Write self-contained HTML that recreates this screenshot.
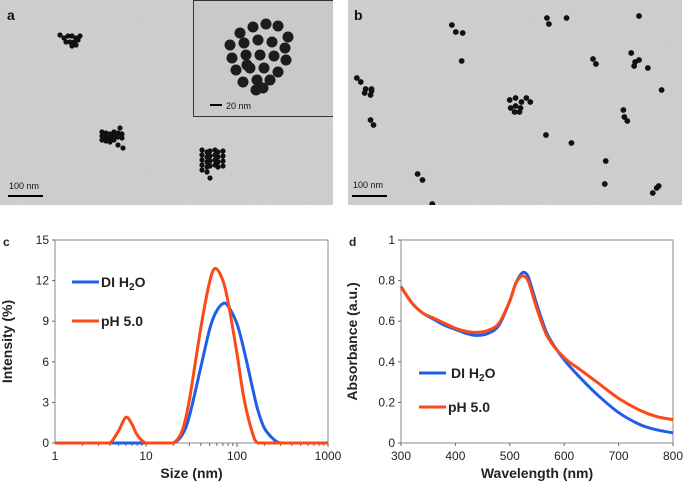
<!DOCTYPE html>
<html><head><meta charset="utf-8"><style>
body{margin:0;background:#fff;width:685px;height:488px;overflow:hidden;font-family:"Liberation Sans",sans-serif}
svg text{font-family:"Liberation Sans",sans-serif}
</style></head><body>
<svg id="fig" width="685" height="488" viewBox="0 0 685 488" xmlns="http://www.w3.org/2000/svg">
<defs>
<filter id="noise" x="0" y="0" width="1" height="1"><feTurbulence type="fractalNoise" baseFrequency="0.9" numOctaves="2" seed="3"/><feColorMatrix type="saturate" values="0"/><feComponentTransfer><feFuncA type="linear" slope="0.18"/></feComponentTransfer></filter>
<clipPath id="clipA"><rect x="0" y="0" width="333" height="205"/></clipPath>
<clipPath id="clipB"><rect x="348" y="0" width="334" height="205"/></clipPath>
</defs>
<g clip-path="url(#clipA)">
<rect x="0" y="0" width="333" height="205" fill="#cfcfcf"/>
<rect x="0" y="0" width="333" height="205" filter="url(#noise)"/>
<text x="7" y="20" font-size="14" font-weight="bold" fill="#111">a</text>
<g id="clA" fill="#111"></g>
<line x1="8" y1="196" x2="43" y2="196" stroke="#000" stroke-width="2"/>
<text x="9" y="189" font-size="9" fill="#111">100 nm</text>
<g>
<rect x="193.5" y="0.5" width="140" height="116" fill="#c9c9c9" stroke="#333" stroke-width="1"/>
<g id="clI" fill="#1c1c1c"></g>
<line x1="210" y1="105" x2="222" y2="105" stroke="#000" stroke-width="2"/>
<text x="226" y="109" font-size="9" fill="#111">20 nm</text>
</g>
</g>
<g clip-path="url(#clipB)">
<rect x="348" y="0" width="334" height="205" fill="#cfcfcf"/>
<rect x="348" y="0" width="334" height="205" filter="url(#noise)"/>
<text x="354" y="20" font-size="14" font-weight="bold" fill="#111">b</text>
<g id="clB" fill="#111"></g>
<line x1="352" y1="196" x2="387" y2="196" stroke="#000" stroke-width="2"/>
<text x="353" y="188" font-size="9" fill="#111">100 nm</text>
</g>
<g id="chartC"></g>
<g id="chartD"></g>
</svg>
<script>
// ===== DLS chart data =====
const dlsSizes = [1,3,4,5,6,7,8,10,15,20,25,30,40,50,58,70,80,100,120,150,170,200,250,300,400,1000];
const dlsWater = [0,0,0,0,0,0,0,0,0,0,0.6,2.0,5.6,8.4,9.6,10.3,10.1,8.8,6.8,3.9,2.4,1.1,0.3,0,0,0];
const dlsPH5   = [0,0,0,0.9,1.9,1.4,0.6,0,0,0,0.9,3.2,8.5,11.9,12.9,12.0,10.4,6.6,3.2,0.6,0,0,0,0,0,0];
const dlsYTicks = [0,3,6,9,12,15];
const dlsXTicks = [1,10,100,1000];
// ===== UV-vis data =====
const uvWave  = [300,320,340,360,380,400,420,440,460,480,500,510,520,527,535,550,570,600,630,660,700,740,770,800];
const uvWater = [0.77,0.69,0.64,0.61,0.58,0.56,0.54,0.53,0.54,0.58,0.70,0.78,0.83,0.84,0.81,0.68,0.53,0.41,0.32,0.24,0.15,0.09,0.065,0.05];
const uvPH5   = [0.77,0.69,0.64,0.615,0.59,0.565,0.55,0.545,0.555,0.59,0.70,0.78,0.82,0.82,0.79,0.66,0.52,0.42,0.36,0.30,0.22,0.16,0.13,0.115];
const uvYTicks = [0,0.2,0.4,0.6,0.8,1];
const uvXTicks = [300,400,500,600,700,800];

const NS="http://www.w3.org/2000/svg";
function mk(tag,attrs,parent,txt){const e=document.createElementNS(NS,tag);for(const k in attrs)e.setAttribute(k,attrs[k]);if(txt!==undefined)e.textContent=txt;parent.appendChild(e);return e;}

function dots(id,list,r){const g=document.getElementById(id);list.forEach(p=>{const c=mk('circle',{cx:p[0],cy:p[1],r:p[2]||r},g);});}
let A=[];
[[60,35],[64,38],[68,36],[72,36],[76,38],[80,36],[66,42],[70,42],[74,42],[78,40],[72,46],[76,45]].forEach(p=>A.push(p));
for(let i=0;i<16;i++){A.push([102+(i%6)*4,132+Math.floor(i/6)*4+((i*7)%3)]);}
[[120,128],[121,134],[118,145],[123,148]].forEach(p=>A.push(p));
for(let i=0;i<26;i++){A.push([202+(i%6)*4+((i*3)%2),150+Math.floor(i/6)*5+((i*5)%3)]);}
A.push([210,178]);
dots('clA',A,2.6);
let I=[];
const ctrs=[[240,33],[253,27],[266,24],[278,26],[288,37],[230,45],[244,43],[258,40],[272,42],[285,48],[232,58],[246,55],[260,55],[274,56],[286,60],[236,70],[250,68],[264,68],[278,72],[243,82],[257,80],[270,80],[256,90],[263,88],[247,65]];
ctrs.forEach(p=>I.push([p[0],p[1],5.5]));
dots('clI',I,5.5);
const bo=340;
const B=[[106,25],[110,32],[117,33],[116,61],[203,18],[205,24],[223,18],[297,16],[250,59],[253,64],[289,53],[293,62],[297,60],[292,66],[306,68],[320,90],[9,78],[13,82],[18,89],[24,91],[17,93],[23,95],[24,89],[23,120],[26,125],[165,100],[171,98],[177,102],[171,106],[182,98],[186,102],[170,112],[176,108],[175,112],[166,108],[281,110],[282,117],[285,121],[202,135],[228,143],[263,161],[262,184],[311,193],[315,188],[317,186],[71,174],[76,180],[86,204]];
dots('clB',B.map(p=>[(p[0])*0.98+bo+8, p[1]]),2.9);

function smooth(pts,clampY){let d='M'+pts[0][0]+','+pts[0][1];for(let i=1;i<pts.length;i++){const p0=pts[Math.max(0,i-2)],p1=pts[i-1],p2=pts[i],p3=pts[Math.min(pts.length-1,i+1)];let c1y=p1[1]+(p2[1]-p0[1])/6,c2y=p2[1]-(p3[1]-p1[1])/6;if(clampY!==undefined){c1y=Math.min(clampY,c1y);c2y=Math.min(clampY,c2y);}d+=` C${p1[0]+(p2[0]-p0[0])/6},${c1y} ${p2[0]-(p3[0]-p1[0])/6},${c2y} ${p2[0]},${p2[1]}`;}return d;}

// ===== Chart C =====
(function(){
const g=document.getElementById('chartC');
const X0=55,X1=328,Y0=443,Y1=240;
const xs=v=>X0+(Math.log10(v))/3*(X1-X0);
const ys=v=>Y0-(v/15)*(Y0-Y1);
mk('rect',{x:X0,y:Y1,width:X1-X0,height:Y0-Y1,fill:'none',stroke:'#888','stroke-width':1},g);
dlsYTicks.forEach(t=>{const l=mk('text',{x:X0-6,y:ys(t)+4,'font-size':12,'text-anchor':'end',fill:'#222'},g,String(t));mk('line',{x1:X0-3,x2:X0,y1:ys(t),y2:ys(t),stroke:'#666'},g);});
dlsXTicks.forEach(t=>{const l=mk('text',{x:xs(t),y:Y0+17,'font-size':12,'text-anchor':'middle',fill:'#222'},g,String(t));});
for(let d=0;d<3;d++)for(let m=2;m<=10;m++){const x=xs(m*Math.pow(10,d));mk('line',{x1:x,x2:x,y1:Y0,y2:Y0+(m==10?4:3),stroke:'#666'},g);}
const yt=mk('text',{x:0,y:0,'font-size':14,'font-weight':'bold','text-anchor':'middle',fill:'#222',transform:`translate(12,${(Y0+Y1)/2}) rotate(-90)`},g,'Intensity (%)');

const xt=mk('text',{x:(X0+X1)/2,y:Y0+35,'font-size':14,'font-weight':'bold','text-anchor':'middle',fill:'#222'},g,'Size (nm)');

const pl=mk('text',{x:3,y:246,'font-size':12,'font-weight':'bold',fill:'#222'},g,'c');
function path(vals,col,name){const pts=dlsSizes.map((s,i)=>[xs(s),ys(vals[i])]);
const e=mk('path',{d:smooth(pts,Y0),fill:'none',stroke:col,'stroke-width':3,'stroke-linejoin':'round'},g);}
path(dlsWater,'#1f5fe8','series-di-water');
path(dlsPH5,'#fb4a17','series-ph5');
const lg=mk('g',{},g);
mk('line',{x1:72,x2:99,y1:282,y2:282,stroke:'#1f5fe8','stroke-width':3},lg);
mk('text',{x:101,y:287,'font-size':14,'font-weight':'bold',fill:'#222'},lg).innerHTML='DI H<tspan font-size="10" dy="3">2</tspan><tspan dy="-3">O</tspan>';
mk('line',{x1:72,x2:99,y1:321,y2:321,stroke:'#fb4a17','stroke-width':3},lg);
mk('text',{x:101,y:326,'font-size':14,'font-weight':'bold',fill:'#222'},lg,'pH 5.0');
})();

// ===== Chart D =====
(function(){
const g=document.getElementById('chartD');
const X0=401,X1=673,Y0=443,Y1=240;
const xs=v=>X0+(v-300)/500*(X1-X0);
const ys=v=>Y0-v*(Y0-Y1);
mk('rect',{x:X0,y:Y1,width:X1-X0,height:Y0-Y1,fill:'none',stroke:'#888','stroke-width':1},g);
uvYTicks.forEach(t=>{const l=mk('text',{x:X0-6,y:ys(t)+4,'font-size':12,'text-anchor':'end',fill:'#222'},g,String(t));mk('line',{x1:X0-3,x2:X0,y1:ys(t),y2:ys(t),stroke:'#666'},g);});
uvXTicks.forEach(t=>{const l=mk('text',{x:xs(t),y:Y0+17,'font-size':12,'text-anchor':'middle',fill:'#222'},g,String(t));mk('line',{x1:xs(t),x2:xs(t),y1:Y0,y2:Y0+3,stroke:'#666'},g);});
const yt=mk('text',{x:0,y:0,'font-size':14,'font-weight':'bold','text-anchor':'middle',fill:'#222',transform:`translate(357,${(Y0+Y1)/2}) rotate(-90)`},g,'Absorbance (a.u.)');

const xt=mk('text',{x:(X0+X1)/2,y:Y0+35,'font-size':14,'font-weight':'bold','text-anchor':'middle',fill:'#222'},g,'Wavelength (nm)');

const pl=mk('text',{x:349,y:246,'font-size':12,'font-weight':'bold',fill:'#222'},g,'d');
function path(vals,col,name){const pts=uvWave.map((s,i)=>[xs(s),ys(vals[i])]);
const e=mk('path',{d:smooth(pts),fill:'none',stroke:col,'stroke-width':3,'stroke-linejoin':'round'},g);}
path(uvWater,'#1f5fe8','series-di-water');
path(uvPH5,'#fb4a17','series-ph5');
const lg=mk('g',{},g);
mk('line',{x1:419,x2:446,y1:373,y2:373,stroke:'#1f5fe8','stroke-width':3},lg);
mk('text',{x:451,y:378,'font-size':14,'font-weight':'bold',fill:'#222'},lg).innerHTML='DI H<tspan font-size="10" dy="3">2</tspan><tspan dy="-3">O</tspan>';
mk('line',{x1:419,x2:446,y1:407,y2:407,stroke:'#fb4a17','stroke-width':3},lg);
mk('text',{x:448,y:412,'font-size':14,'font-weight':'bold',fill:'#222'},lg,'pH 5.0');
})();
</script>
</body></html>
